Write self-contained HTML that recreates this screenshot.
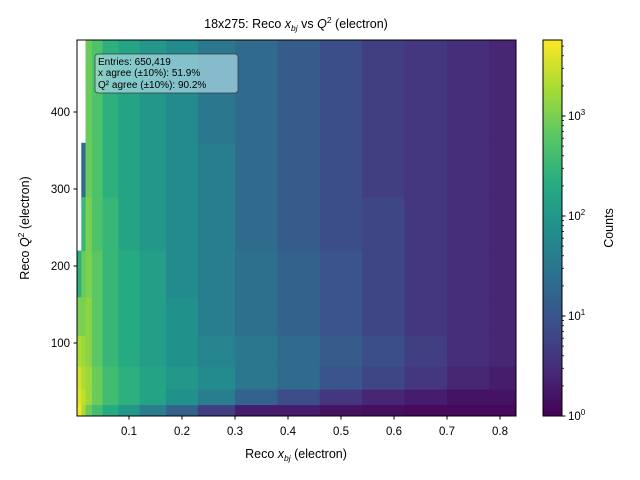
<!DOCTYPE html>
<html><head><meta charset="utf-8"><style>body{margin:0;background:#fff}svg{display:block;font-family:"Liberation Sans","DejaVu Sans",sans-serif}</style></head>
<body>
<svg id="c" width="640" height="480" xmlns="http://www.w3.org/2000/svg">
<defs><linearGradient id="vg" x1="0" y1="1" x2="0" y2="0">
<stop offset="0" stop-color="#440154"/><stop offset="0.125" stop-color="#472c7a"/><stop offset="0.25" stop-color="#3b518b"/><stop offset="0.375" stop-color="#2c718e"/><stop offset="0.5" stop-color="#21908d"/><stop offset="0.625" stop-color="#27ad81"/><stop offset="0.75" stop-color="#5cc863"/><stop offset="0.875" stop-color="#aadc32"/><stop offset="1" stop-color="#fde725"/></linearGradient></defs>
<g id="heat"></g>
<rect x="77" y="40" width="439" height="376" fill="none" stroke="#000" stroke-width="1"/>
<g id="axes"></g>
<text x="296" y="28" font-size="12.5" text-anchor="middle">18x275: Reco <tspan font-style="italic">x</tspan><tspan font-style="italic" font-size="8.5" dy="3">bj</tspan><tspan dy="-3"> vs </tspan><tspan font-style="italic">Q</tspan><tspan font-size="8.5" dy="-5">2</tspan><tspan dy="5"> (electron)</tspan></text>
<text x="296" y="458" font-size="12.5" text-anchor="middle">Reco <tspan font-style="italic">x</tspan><tspan font-style="italic" font-size="8.5" dy="3">bj</tspan><tspan dy="-3"> (electron)</tspan></text>
<text transform="translate(29,228) rotate(-90)" font-size="12.5" text-anchor="middle">Reco <tspan font-style="italic">Q</tspan><tspan font-size="8.5" dy="-5">2</tspan><tspan dy="5"> (electron)</tspan></text>
<g>
<rect x="95" y="54" width="143" height="39" rx="3" fill="#add8e6" fill-opacity="0.7" stroke="#333" stroke-opacity="0.7"/>
<text x="98" y="65" font-size="10">Entries: 650,419</text>
<text x="98" y="76" font-size="10">x agree (±10%): 51.9%</text>
<text x="98" y="88" font-size="10">Q² agree (±10%): 90.2%</text>
</g>
<rect x="543" y="40" width="19" height="376" fill="url(#vg)" stroke="#000"/>
<g id="cbax"></g>
<text transform="translate(613,228) rotate(-90)" font-size="12.5" text-anchor="middle">Counts</text>
</svg>
<script>
const xEdges=[0.002,0.01,0.018,0.03,0.05,0.08,0.12,0.17,0.23,0.3,0.38,0.46,0.54,0.62,0.7,0.78,0.83];
const yEdges=[5,20,40,70,110,160,220,290,360,430,494];
// log10(counts), one array per x column, rows bottom->top; null = empty
const col0=[3.7,3.6,3.5,3.3,3.0,2.4,null,null,null,null];
const col1=[3.3,3.4,3.3,3.2,3.0,2.9,2.5,1.3,null,null];
const col2=[2.9,3.2,3.2,3.1,3.1,3.0,3.0,2.9,2.9,2.9];
const col3=[2.6,2.9,2.9,2.8,2.8,2.8,2.7,2.7,2.7,2.7];
const col4=[2.3,2.6,2.6,2.5,2.5,2.5,2.5,2.4,2.4,2.4];
const col5=[2.0,2.4,2.4,2.3,2.3,2.3,2.2,2.2,2.2,2.2];
const col6=[1.6,2.2,2.2,2.1,2.1,2.1,2.0,2.0,2.0,2.0];
const col7=[1.2,1.9,2.0,1.9,1.9,1.8,1.8,1.8,1.8,1.8];
const col8=[0.7,1.6,1.8,1.7,1.6,1.6,1.6,1.6,1.5,1.5];
const col9=[0.3,1.2,1.5,1.5,1.4,1.4,1.3,1.3,1.3,1.3];
const col10=[0.3,0.9,1.3,1.3,1.2,1.2,1.1,1.1,1.1,1.1];
const col11=[0.2,0.6,1.0,1.1,1.0,1.0,0.9,0.9,0.9,0.9];
const col12=[0.15,0.4,0.8,0.9,0.8,0.8,0.8,0.7,0.7,0.7];
const col13=[0.1,0.3,0.6,0.7,0.6,0.6,0.6,0.6,0.6,0.6];
const col14=[0.1,0.2,0.4,0.5,0.5,0.5,0.5,0.5,0.5,0.5];
const col15=[0.1,0.2,0.3,0.4,0.4,0.4,0.4,0.4,0.4,0.4];
const cols=[col0,col1,col2,col3,col4,col5,col6,col7,col8,col9,col10,col11,col12,col13,col14,col15];
const xTicks=[0.1,0.2,0.3,0.4,0.5,0.6,0.7,0.8];
const yTicks=[100,200,300,400];
const cTicks=[0,1,2,3];
const NS='http://www.w3.org/2000/svg';
const X=v=>76+(v-0)*530;
const Y=v=>420-v*0.77;
const CMAX=3.76;
const C=l=>416-l*(376/CMAX);
const vir=['#440154','#472c7a','#3b518b','#2c718e','#21908d','#27ad81','#5cc863','#aadc32','#fde725'];
function hx(h){return [1,3,5].map(i=>parseInt(h.substr(i,2),16));}
function color(l){let t=Math.max(0,Math.min(1,l/CMAX))*8;let i=Math.min(7,Math.floor(t)),f=t-i;const a=hx(vir[i]),b=hx(vir[i+1]);return 'rgb('+a.map((v,k)=>Math.round(v+(b[k]-v)*f)).join(',')+')';}
function mk(tag,at,parent){const e=document.createElementNS(NS,tag);for(const k in at)e.setAttribute(k,at[k]);parent.appendChild(e);return e;}
const heat=document.getElementById('heat');
cols.forEach((col,i)=>col.forEach((v,j)=>{if(v===null)return;
 const x0=X(xEdges[i]),x1=Math.min(516,X(xEdges[i+1])),y1=Y(yEdges[j]),y0=Y(yEdges[j+1]);
 const r=mk('rect',{x:x0,y:Math.max(40,y0),width:x1-x0+0.5,height:Math.min(416,y1)-Math.max(40,y0)+0.5,fill:color(v)},heat);
 
 
}));
const ax=document.getElementById('axes');
xTicks.forEach(t=>{const x=X(t);mk('line',{x1:x,x2:x,y1:416,y2:419.5,stroke:'#000'},ax);
 const tx=mk('text',{x:x,y:435,'font-size':11.5,'text-anchor':'middle'},ax);tx.textContent=t.toFixed(1);
 
 });
yTicks.forEach(t=>{const y=Y(t);mk('line',{x1:73.5,x2:77,y1:y,y2:y,stroke:'#000'},ax);
 const tx=mk('text',{x:70,y:y+4,'font-size':11.5,'text-anchor':'end'},ax);tx.textContent=t;
 
 });
const cb=document.getElementById('cbax');
cTicks.forEach(t=>{const y=C(t);mk('line',{x1:562,x2:565.5,y1:y,y2:y,stroke:'#000'},cb);
 const tx=mk('text',{x:568,y:y+4,'font-size':11.5},cb);tx.innerHTML='10<tspan font-size="8" dy="-5">'+t+'</tspan>';
 
 
 for(let m=2;m<10;m++){const l=t+Math.log10(m);if(l>CMAX)break;const ym=C(l);mk('line',{x1:562,x2:564,y1:ym,y2:ym,stroke:'#000','stroke-width':0.8},cb);}});
</script>
</body></html>
